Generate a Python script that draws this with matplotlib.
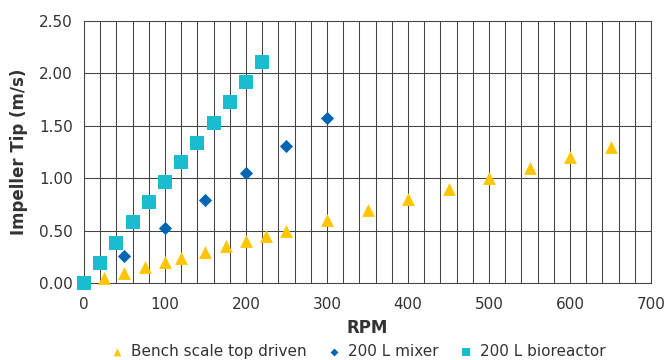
import matplotlib
matplotlib.use("Agg")
import matplotlib.pyplot as plt
import numpy as np

# Bench scale top driven
bench_rpm = [25, 50, 75, 100, 120, 150, 175, 200, 225, 250, 300, 350, 400, 450, 500, 550, 600, 650]
bench_tip = [0.05, 0.10, 0.15, 0.20, 0.24, 0.30, 0.35, 0.40, 0.45, 0.50, 0.60, 0.70, 0.80, 0.90, 1.00, 1.10, 1.20, 1.30]

# 200 L mixer
mixer_rpm = [50, 100, 150, 200, 250, 300]
mixer_tip = [0.26, 0.52, 0.79, 1.05, 1.31, 1.57]

# 200 L bioreactor
bior_rpm = [0, 20, 40, 60, 80, 100, 120, 140, 160, 180, 200, 220]
bior_tip = [0.0, 0.19, 0.38, 0.58, 0.77, 0.96, 1.15, 1.34, 1.53, 1.73, 1.92, 2.11]

plt.rcParams['font.family'] = ['DejaVu Sans']

fig = plt.figure(figsize=(6.68, 3.6), dpi=100)
ax = fig.add_axes([0.1257, 0.2139, 0.8489, 0.7278])

ax.scatter(bench_rpm, bench_tip, marker='^', s=85, color='#FFC600', label='Bench scale top driven',
           zorder=3, linewidths=0, clip_on=False)
ax.scatter(mixer_rpm, mixer_tip, marker='D', s=45, color='#0066B3', label='200 L mixer',
           zorder=3, linewidths=0, clip_on=False)
ax.scatter(bior_rpm, bior_tip, marker='s', s=90, color='#1ABDD0', label='200 L bioreactor',
           zorder=3, linewidths=0, clip_on=False)

ax.set_xlim(0, 700)
ax.set_ylim(0, 2.5)
ax.set_xticks(np.arange(0, 701, 100))
ax.set_xticks(np.arange(0, 701, 20), minor=True)
ax.set_yticks(np.arange(0, 2.51, 0.5))
ax.set_yticklabels([f"{v:.2f}" for v in np.arange(0, 2.51, 0.5)])

ax.grid(True, which='both', axis='x', color='#444444', linewidth=0.75)
ax.grid(True, which='major', axis='y', color='#444444', linewidth=0.75)
ax.set_axisbelow(True)
ax.tick_params(which='both', length=0, labelsize=11, colors='#333333')
ax.tick_params(axis='x', pad=10)
ax.tick_params(axis='y', pad=8)
for s in ax.spines.values():
    s.set_color('#444444')
    s.set_linewidth(0.75)

ax.set_xlabel('RPM', fontsize=12, fontweight='bold', color='#333333', labelpad=5)
ax.set_ylabel('Impeller Tip (m/s)', fontsize=12, fontweight='bold', color='#333333', labelpad=8)

fig.legend(loc='lower center', bbox_to_anchor=(0.535, -0.035), ncol=3, frameon=False,
           fontsize=11, handlelength=1.0, handletextpad=0.4, columnspacing=1.3, markerscale=0.6,
           labelcolor='#333333')

fig.savefig('out.png', dpi=100)
